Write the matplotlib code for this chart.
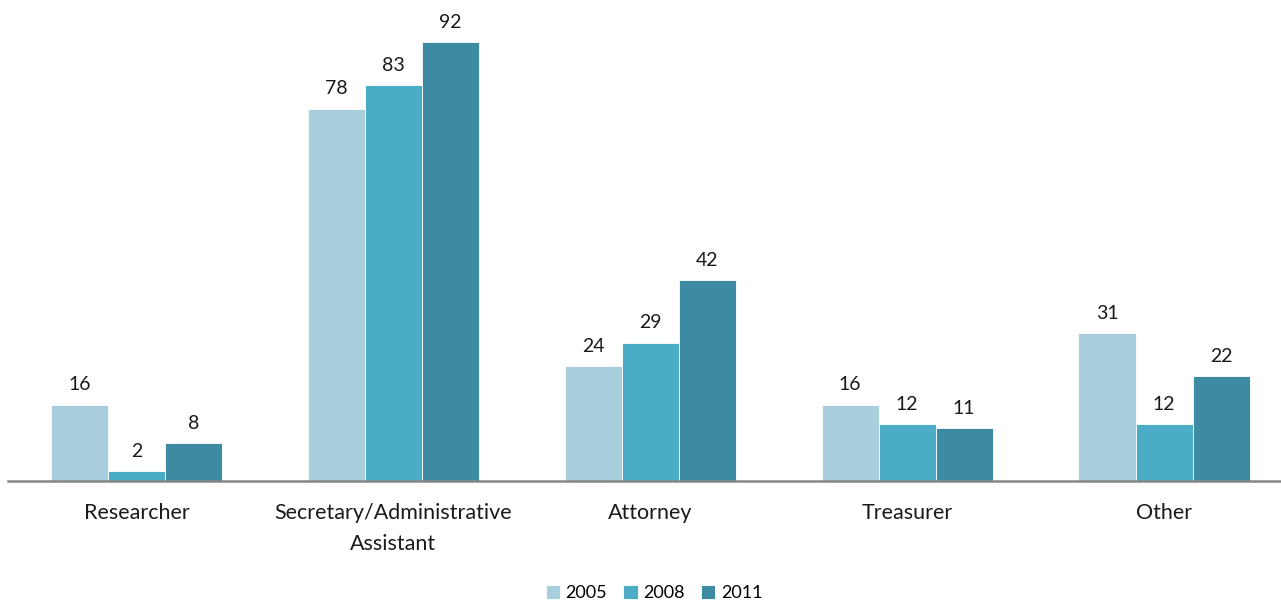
import matplotlib
matplotlib.use("Agg")
import matplotlib.pyplot as plt
import numpy as np

categories = ["Researcher", "Secretary/Administrative\nAssistant", "Attorney", "Treasurer", "Other"]
years = ["2005", "2008", "2011"]
values_2005 = [16, 78, 24, 16, 31]
values_2008 = [2, 83, 29, 12, 12]
values_2011 = [8, 92, 42, 11, 22]
series = [values_2005, values_2008, values_2011]
colors = ["#A9CFDD", "#4BACC6", "#3D8BA3"]

plt.rcParams['font.family'] = ['Lato', 'DejaVu Sans']

W, H = 1281, 602
fig = plt.figure(figsize=(W / 100, H / 100), dpi=100)
ax = fig.add_axes([8 / W, 121 / H, (W - 8) / W, (481 - 3.5) / H])

x = np.arange(len(categories))
bw = 0.222
for i, (vals, col, yr) in enumerate(zip(series, colors, years)):
    pos = x + (i - 1) * bw
    bars = ax.bar(pos, vals, width=bw, color=col, edgecolor="white", linewidth=0.6, label=yr, zorder=2)
    for b, v in zip(bars, vals):
        ax.annotate(str(v), (b.get_x() + b.get_width() / 2, v), xytext=(0, 8),
                    textcoords="offset points", ha="center", va="bottom",
                    fontsize=14, color="#1a1a1a")

ax.set_xlim(-0.5, (W - 136) / 257)
ax.set_ylim(0, 100)
ax.set_yticks([])
for s in ["top", "right", "left"]:
    ax.spines[s].set_visible(False)
ax.spines["bottom"].set_color("#868686")
ax.spines["bottom"].set_linewidth(1.8)
ax.spines["bottom"].set_zorder(3)
ax.set_xticks(x)
ax.set_xticklabels(categories, fontsize=15.5, color="#1a1a1a", linespacing=1.7)
ax.tick_params(axis="x", length=0, pad=16)

leg = fig.legend(loc="center", bbox_to_anchor=(654 / W, 1 - 593 / H), ncol=3,
                 frameon=False, fontsize=13, handlelength=0.8, handleheight=0.8,
                 handletextpad=0.3, columnspacing=0.9)

fig.savefig("out.png", dpi=100)
